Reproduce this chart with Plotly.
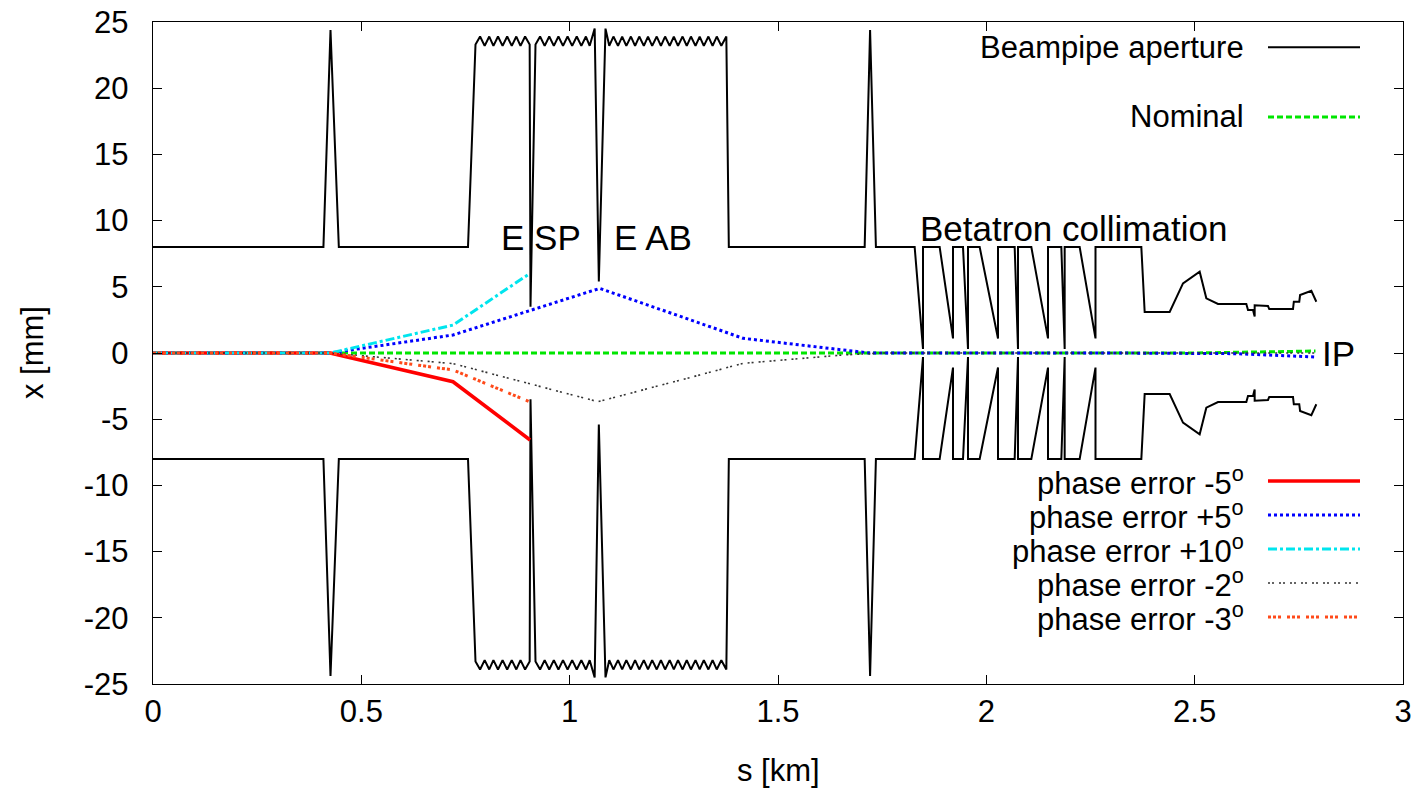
import plotly.graph_objects as go

# ---------------- data ----------------
# beampipe aperture (upper edge), s in km, x in mm
ap_s = [0.000, 0.409, 0.426, 0.446, 0.756, 0.774,
        0.785, 0.796, 0.807, 0.817, 0.828, 0.839, 0.850, 0.861, 0.872, 0.882, 0.893, 0.904,
        0.906, 0.918,
        0.929, 0.940, 0.951, 0.962, 0.973, 0.984, 0.995, 1.006, 1.017, 1.028, 1.039, 1.048, 1.060,
        1.070, 1.086,
        1.095, 1.105, 1.116, 1.126, 1.136, 1.147, 1.157, 1.167, 1.178, 1.188, 1.198, 1.209, 1.219,
        1.229, 1.240, 1.250, 1.260, 1.271, 1.281, 1.291, 1.302, 1.312, 1.322, 1.333, 1.343, 1.353,
        1.364, 1.376,
        1.382, 1.708, 1.721, 1.735,
        1.828, 1.848, 1.848, 1.888, 1.920, 1.920, 1.944, 1.956, 1.956, 1.984, 2.028, 2.028,
        2.068, 2.076, 2.076, 2.108, 2.148, 2.148, 2.180, 2.188, 2.188, 2.224, 2.262, 2.262,
        2.372, 2.380, 2.440, 2.472, 2.512, 2.528, 2.556, 2.624, 2.628, 2.640, 2.644, 2.644,
        2.676, 2.679, 2.736, 2.738, 2.751, 2.753, 2.780, 2.792]
ap_upper = [8.0, 8.0, 24.4, 8.0, 8.0, 23.3,
            23.9, 23.2, 23.9, 23.2, 23.9, 23.2, 23.9, 23.2, 23.9, 23.2, 23.9, 23.3,
            3.5, 23.3,
            23.9, 23.2, 23.9, 23.2, 23.9, 23.2, 23.9, 23.2, 23.9, 23.2, 23.9, 23.2, 24.5,
            5.4, 24.5,
            23.2, 23.9, 23.2, 23.9, 23.2, 23.9, 23.2, 23.9, 23.2, 23.9, 23.2, 23.9, 23.2,
            23.9, 23.2, 23.9, 23.2, 23.9, 23.2, 23.9, 23.2, 23.9, 23.2, 23.9, 23.2, 23.9,
            23.2, 23.9,
            8.0, 8.0, 24.4, 8.0,
            8.0, 0.3, 8.0, 8.0, 1.1, 8.0, 8.0, 0.3, 8.0, 8.0, 1.1, 8.0,
            8.0, 0.3, 8.0, 8.0, 1.1, 8.0, 8.0, 0.3, 8.0, 8.0, 1.1, 8.0,
            8.0, 3.1, 3.1, 5.26, 6.14, 4.13, 3.70, 3.70, 3.25, 3.25, 2.75, 3.60,
            3.55, 3.32, 3.32, 3.87, 3.87, 4.38, 4.70, 3.87]
ap_lower = [-v for v in ap_upper]

# trajectories
nominal_s = [0.0, 2.50, 2.79]
nominal_x = [0.0, 0.0, 0.15]

pm5_s = [0.0, 0.425, 0.720, 0.905]          # phase error -5
pm5_x = [0.0, 0.0, -2.17, -6.57]

pp5_s = [0.0, 0.425, 0.720, 1.072, 1.312, 1.40, 1.416, 1.656, 1.72, 2.30, 2.60, 2.79]   # +5
pp5_x = [0.0, 0.0, 1.36, 4.88, 2.26, 1.30, 1.11, 0.23, 0.0, 0.0, -0.05, -0.30]

pp10_s = [0.0, 0.425, 0.720, 0.905]         # +10
pp10_x = [0.0, 0.0, 2.11, 6.02]

pm2_s = [0.0, 0.425, 0.720, 1.068, 1.312, 1.416, 1.656, 1.75, 2.79]   # -2
pm2_x = [0.0, 0.0, -0.80, -3.68, -1.66, -0.78, -0.15, 0.0, 0.0]

pm3_s = [0.0, 0.425, 0.720, 0.905]          # -3
pm3_x = [0.0, 0.0, -1.28, -3.70]

x_ticks = [0, 0.5, 1, 1.5, 2, 2.5, 3]
y_ticks = [-25, -20, -15, -10, -5, 0, 5, 10, 15, 20, 25]

legend_labels = ["Beampipe aperture", "Nominal",
                 "phase error -5<sup>o</sup>", "phase error +5<sup>o</sup>",
                 "phase error +10<sup>o</sup>", "phase error -2<sup>o</sup>",
                 "phase error -3<sup>o</sup>"]

# ---------------- styles ----------------
FONT = "Liberation Sans, Arial, sans-serif"
FS = 31
FS_LAB = 35
NB = "\u00a0\u00a0"
styles = [
    dict(color="black", width=2, dash="solid"),
    dict(color="#00e600", width=3, dash="6px,3px"),
    dict(color="#ff0000", width=3.5, dash="solid"),
    dict(color="#0000ff", width=3, dash="3px,3px"),
    dict(color="#00e5ee", width=3, dash="9px,3px,3px,3px"),
    dict(color="#333333", width=1.6, dash="2px,2px,2px,5px"),
    dict(color="#ff4a1a", width=3, dash="3px,2px,3px,2px,3px,6px"),
]

fig = go.Figure()
fig.add_trace(go.Scatter(x=ap_s, y=ap_upper, mode="lines", line=styles[0], showlegend=False))
fig.add_trace(go.Scatter(x=ap_s, y=ap_lower, mode="lines", line=styles[0], showlegend=False))
fig.add_trace(go.Scatter(x=nominal_s, y=nominal_x, mode="lines", line=styles[1], showlegend=False))
fig.add_trace(go.Scatter(x=pm5_s, y=pm5_x, mode="lines", line=styles[2], showlegend=False))
fig.add_trace(go.Scatter(x=pp5_s, y=pp5_x, mode="lines", line=styles[3], showlegend=False))
fig.add_trace(go.Scatter(x=pp10_s, y=pp10_x, mode="lines", line=styles[4], showlegend=False))
fig.add_trace(go.Scatter(x=pm2_s, y=pm2_x, mode="lines", line=styles[5], showlegend=False))
fig.add_trace(go.Scatter(x=pm3_s, y=pm3_x, mode="lines", line=styles[6], showlegend=False))

# manual gnuplot-style legend (text right-aligned, sample to the right)
leg_y = [0.962, 0.8565, 0.3066, 0.2553, 0.2039, 0.1526, 0.1012]
shapes = []
annotations = []
for lab, yy, st in zip(legend_labels, leg_y, styles):
    annotations.append(dict(x=0.874, y=yy, xref="paper", yref="paper", text=lab,
                            showarrow=False, xanchor="right", yanchor="middle",
                            font=dict(family=FONT, size=FS, color="black")))
    shapes.append(dict(type="line", xref="paper", yref="paper", x0=0.892, x1=0.9656,
                       y0=yy, y1=yy, line=st))

# in-plot labels
for txt, sx, yx in [("E SP", 0.93, 8.76), ("E AB", 1.20, 8.76),
                    ("Betatron collimation", 2.21, 9.44)]:
    annotations.append(dict(x=sx, y=yx, xref="x", yref="y", text=txt, showarrow=False,
                            xanchor="center", yanchor="middle",
                            font=dict(family=FONT, size=FS_LAB, color="black")))
annotations.append(dict(x=2.80, y=0, xref="x", yref="y", text="IP", showarrow=False,
                        xanchor="left", yanchor="middle",
                        font=dict(family=FONT, size=FS_LAB, color="black")))

# axis titles
annotations.append(dict(x=0.5, y=-0.13, xref="paper", yref="paper", text="s [km]",
                        showarrow=False, xanchor="center", yanchor="middle",
                        font=dict(family=FONT, size=FS, color="black")))
annotations.append(dict(x=-0.0968, y=0.5, xref="paper", yref="paper", text="x [mm]",
                        showarrow=False, xanchor="center", yanchor="middle", textangle=-90,
                        font=dict(family=FONT, size=FS, color="black")))

axis_common = dict(showline=True, linecolor="black", linewidth=1, mirror="ticks",
                   ticks="inside", ticklen=9, tickwidth=1, tickcolor="black",
                   showgrid=False, zeroline=False, automargin=False,
                   ticklabeloverflow="allow",
                   tickfont=dict(family=FONT, size=FS, color="black"))

fig.update_layout(
    width=1419, height=789,
    margin=dict(l=153, r=16, t=22, b=105),
    paper_bgcolor="white", plot_bgcolor="white",
    showlegend=False,
    xaxis=dict(range=[0, 3], tickvals=x_ticks, ticktext=[str(v) for v in x_ticks],
               **axis_common),
    yaxis=dict(range=[-25, 25], tickvals=y_ticks, ticktext=[str(v) + NB for v in y_ticks],
               **axis_common),
    shapes=shapes, annotations=annotations,
)

# remove the default 8 px page-body margin so the figure fills the window exactly
fig.write_html("out.html", config={"displayModeBar": False},
               post_script="document.body.style.margin='0';")
